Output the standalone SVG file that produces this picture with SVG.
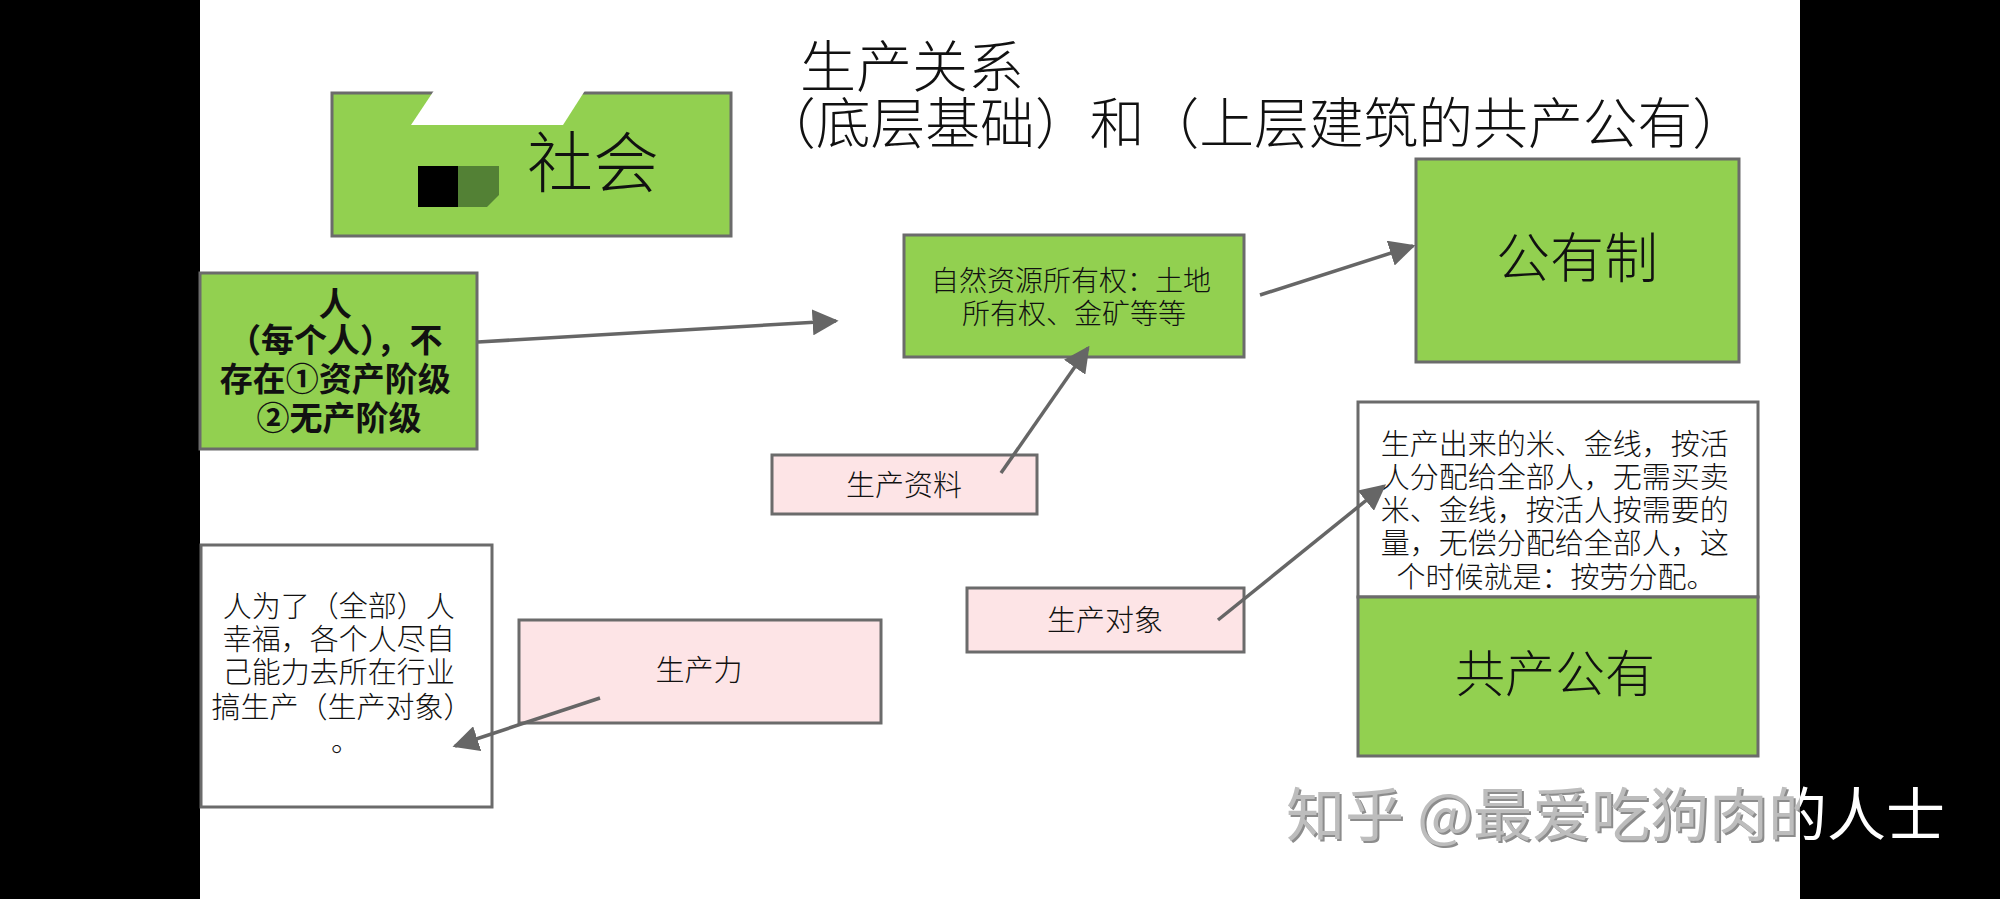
<svg xmlns="http://www.w3.org/2000/svg" width="2000" height="899" viewBox="0 0 2000 899">
<style>
.bg{fill:#ffffff}
.bar{fill:#000000}
.green{fill:#92d050;stroke:#6b6b6b;stroke-width:3}
.pink{fill:#fde4e6;stroke:#6b6b6b;stroke-width:3}
.white{fill:#ffffff;stroke:#6b6b6b;stroke-width:3}
.t{font-family:"Noto Sans CJK SC","Noto Sans CJK JP",sans-serif;fill:#111111;font-weight:300}
.tb{font-family:"Noto Sans CJK SC","Noto Sans CJK JP",sans-serif;fill:#111111;font-weight:700}
.c{text-anchor:middle}
.conn line{stroke:#666666;stroke-width:3.5;marker-end:url(#ah)}
.wm{font-family:"Noto Sans CJK SC","Noto Sans CJK JP",sans-serif;font-size:58px;font-weight:400}
</style>
<defs>
<marker id="ah" viewBox="0 0 10 10" refX="9" refY="5" markerUnits="userSpaceOnUse" markerWidth="26" markerHeight="26" orient="auto">
<path d="M0,0 L10,5 L0,10 z" fill="#666666"/>
</marker>
<clipPath id="cw"><rect x="200" y="0" width="1600" height="899"/></clipPath>
<clipPath id="cb"><rect x="1800" y="0" width="200" height="899"/></clipPath>
</defs>
<rect class="bg" x="0" y="0" width="2000" height="899"/>
<rect class="bar" x="0" y="0" width="200" height="899"/>
<rect class="bar" x="1800" y="0" width="200" height="899"/>

<g id="title">
<text class="t c" x="912" y="87" font-size="56">生产关系</text>
<text class="t" x="761" y="143" font-size="55" textLength="986" lengthAdjust="spacingAndGlyphs">（底层基础）和（上层建筑的共产公有）</text>
</g>

<g id="node-shehui">
<rect class="green" x="332" y="93" width="399" height="143"/>
<polygon points="435,89 586,89 563,125 411,125" fill="#ffffff"/>
<rect x="418" y="166" width="40" height="41" fill="#000000"/>
<polygon points="458,166 499,166 499,195 487,207 458,207" fill="#538135"/>
<text class="t" x="527" y="187" font-size="66">社会</text>
</g>

<g id="node-ren">
<rect class="green" x="200" y="273" width="277" height="176"/>
<text class="tb c" font-size="33">
<tspan x="339" y="316">人</tspan>
<tspan x="339" y="352">（每个人），不</tspan>
<tspan x="339" y="391">存在①资产阶级</tspan>
<tspan x="339" y="430">②无产阶级</tspan>
</text>
</g>

<g id="node-ziran">
<rect class="green" x="904" y="235" width="340" height="122"/>
<text class="t c" font-size="28">
<tspan x="1074" y="291">自然资源所有权：土地</tspan>
<tspan x="1074" y="324">所有权、金矿等等</tspan>
</text>
</g>

<g id="node-gongyouzhi">
<rect class="green" x="1416" y="159" width="323" height="203"/>
<text class="t c" x="1577" y="278" font-size="54">公有制</text>
</g>

<g id="node-ziliao">
<rect class="pink" x="772" y="455" width="265" height="59"/>
<text class="t c" x="904" y="496" font-size="29">生产资料</text>
</g>

<g id="node-duixiang">
<rect class="pink" x="967" y="588" width="277" height="64"/>
<text class="t c" x="1105" y="631" font-size="29">生产对象</text>
</g>

<g id="node-shengchanli">
<rect class="pink" x="519" y="620" width="362" height="103"/>
<text class="t c" x="699" y="681" font-size="29">生产力</text>
</g>

<g id="node-renweile">
<rect class="white" x="201" y="545" width="291" height="262"/>
<text class="t c" font-size="29">
<tspan x="342" y="617">人为了（全部）人</tspan>
<tspan x="342" y="650">幸福，各个人尽自</tspan>
<tspan x="342" y="683">己能力去所在行业</tspan>
<tspan x="342" y="718">搞生产（生产对象）</tspan>
</text>
<text class="t" x="331" y="752" font-size="29">。</text>
</g>

<g id="node-fenpei">
<rect class="white" x="1358" y="402" width="400" height="195"/>
<text class="t c" font-size="29">
<tspan x="1558" y="455">生产出来的米、金线，按活</tspan>
<tspan x="1558" y="488">人分配给全部人，无需买卖</tspan>
<tspan x="1558" y="521">米、金线，按活人按需要的</tspan>
<tspan x="1558" y="554">量，无偿分配给全部人，这</tspan>
<tspan x="1556" y="588">个时候就是：按劳分配。</tspan>
</text>
</g>

<g id="node-gongchan">
<rect class="green" x="1358" y="597" width="400" height="159"/>
<text class="t c" x="1555" y="692" font-size="50">共产公有</text>
</g>

<g id="connectors" class="conn">
<line x1="478" y1="342" x2="836" y2="321"/>
<line x1="1260" y1="295" x2="1413" y2="246"/>
<line x1="1001" y1="473" x2="1088" y2="348"/>
<line x1="1218" y1="620" x2="1384" y2="486"/>
<line x1="600" y1="698" x2="455" y2="746"/>
</g>

<g id="watermark">
<g clip-path="url(#cw)">
<text class="wm" x="1288" y="838" fill="#8c8c8c" textLength="659" lengthAdjust="spacingAndGlyphs">知乎 @最爱吃狗肉的人士</text>
<text class="wm" x="1286" y="836" fill="#bdbdbd" textLength="659" lengthAdjust="spacingAndGlyphs">知乎 @最爱吃狗肉的人士</text>
</g>
<g clip-path="url(#cb)">
<text class="wm" x="1286" y="836" fill="#ffffff" textLength="659" lengthAdjust="spacingAndGlyphs">知乎 @最爱吃狗肉的人士</text>
</g>
</g>
</svg>
